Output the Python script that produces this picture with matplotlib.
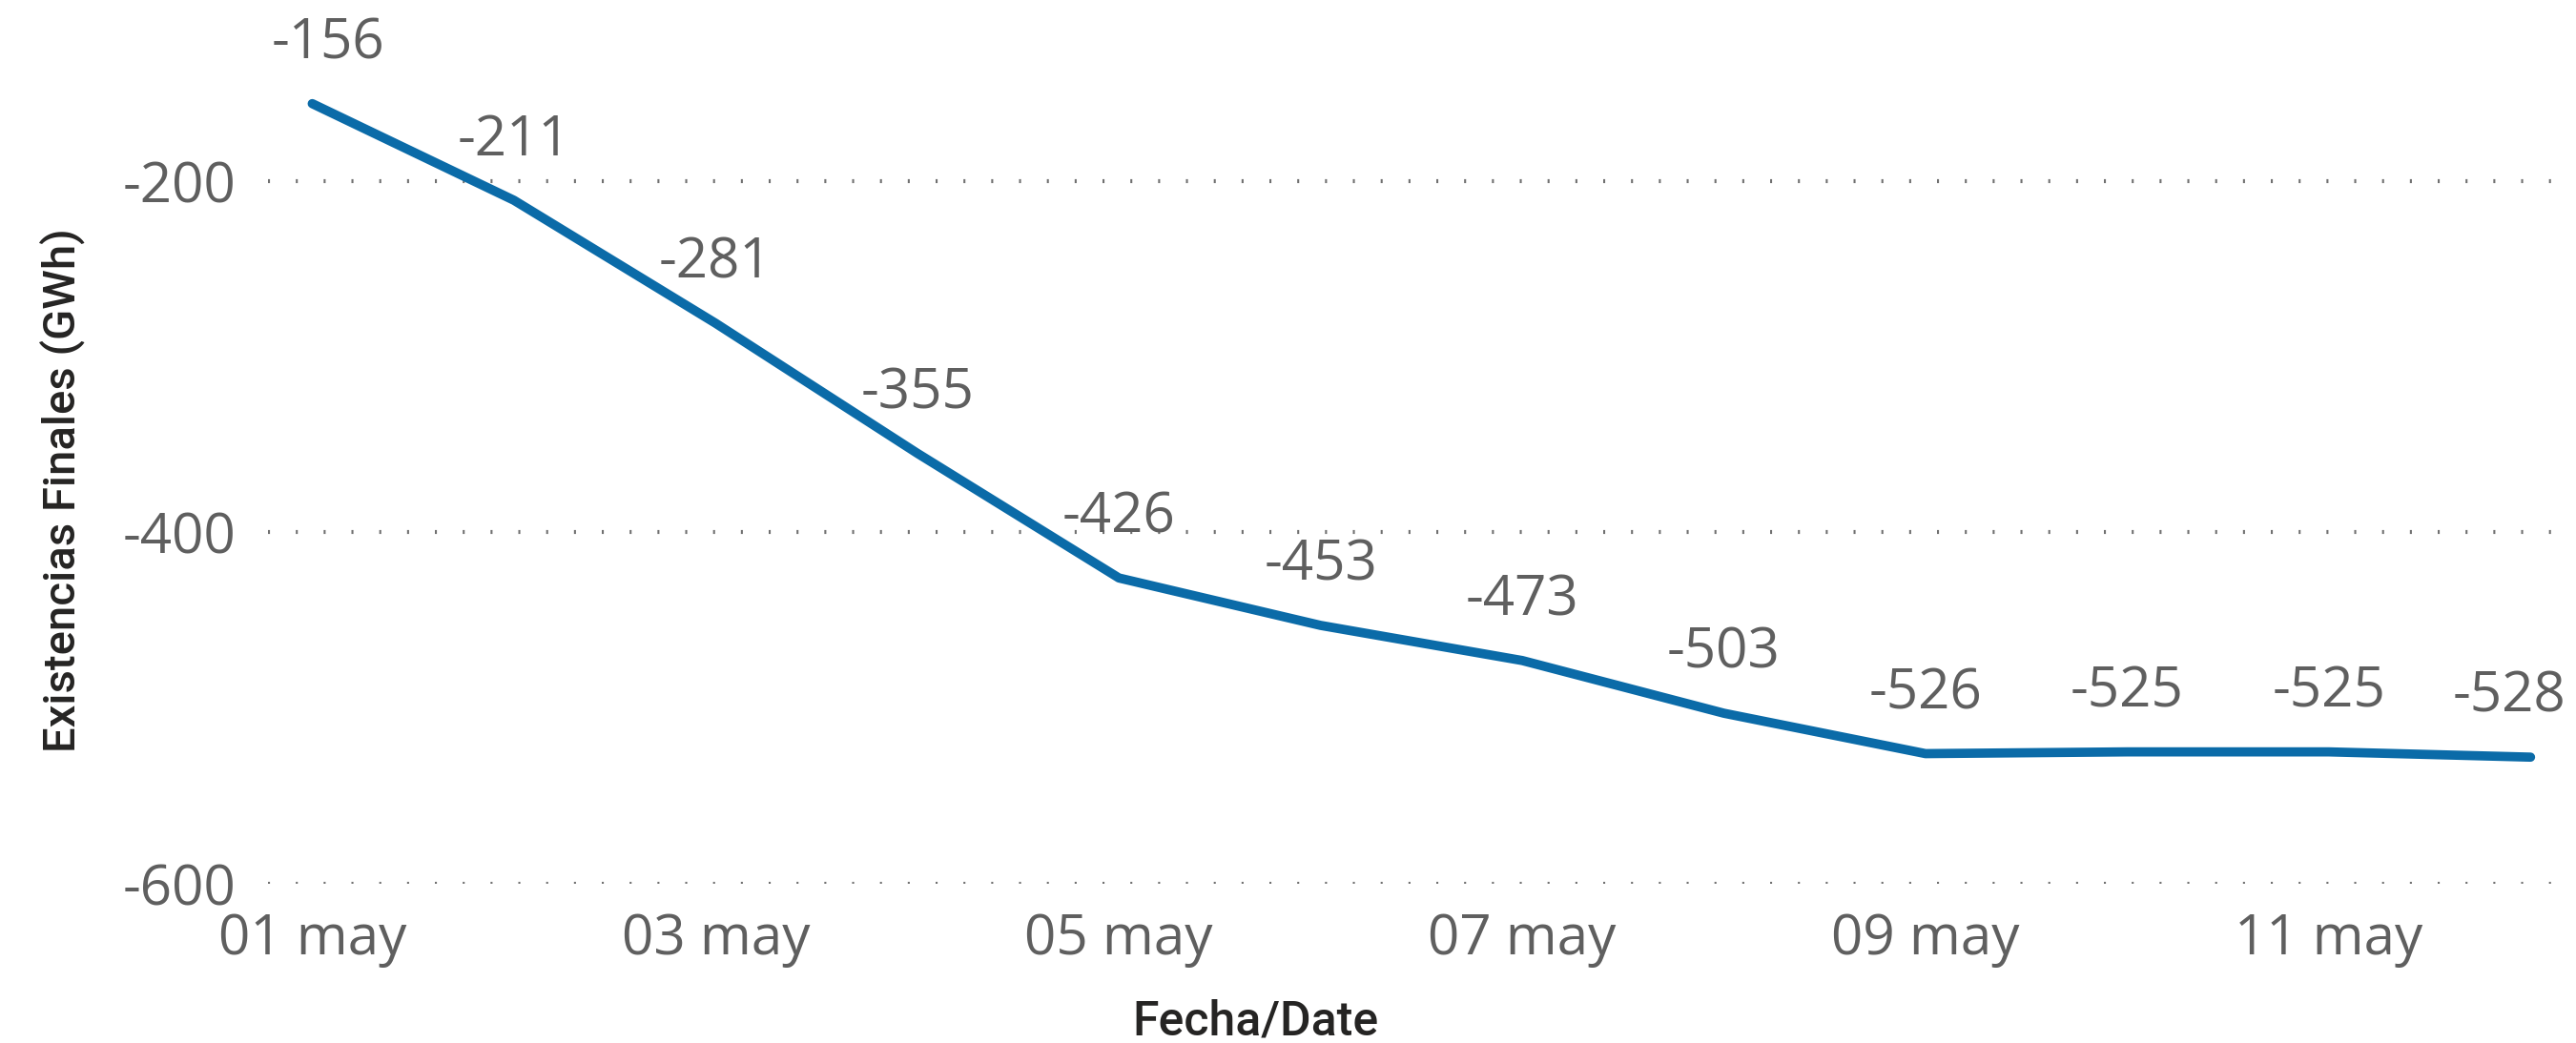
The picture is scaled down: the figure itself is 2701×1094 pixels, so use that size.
import matplotlib.pyplot as plt

days = [1, 2, 3, 4, 5, 6, 7, 8, 9, 10, 11, 12]
values = [-156, -211, -281, -355, -426, -453, -473, -503, -526, -525, -525, -528]
tick_days = [1, 3, 5, 7, 9, 11]
tick_labels = ["01 may", "03 may", "05 may", "07 may", "09 may", "11 may"]
y_ticks = [-200, -400, -600]

line_color = "#0B6BA8"
text_gray = "#5F5F5F"
title_color = "#252423"

plt.rcParams['font.family'] = ['Open Sans', 'DejaVu Sans']

fig = plt.figure(figsize=(27.01, 10.94), dpi=100)
ax = fig.add_axes([0.104, 0.1528, 0.894, 0.8472])

ax.plot(days, values, color=line_color, linewidth=7, solid_capstyle='round',
        solid_joinstyle='round', zorder=3)

# data labels above each point, first/last nudged to stay inside
for i, (d, v) in enumerate(zip(days, values)):
    dx = 0
    if i == 0:
        dx = 12
    elif i == len(days) - 1:
        dx = -16
    ax.annotate(f"{v}", (d, v), xytext=(dx, 24), textcoords='offset points',
                ha='center', va='bottom', fontsize=42, color=text_gray,
                clip_on=False, zorder=4)

ax.set_xlim(0.78, 12.2)
ax.set_ylim(-600, -97)

ax.set_xticks(tick_days)
ax.set_xticklabels(tick_labels)
ax.set_yticks(y_ticks)
ax.set_yticklabels([str(t) for t in y_ticks])
ax.tick_params(axis='both', length=0, labelsize=42, labelcolor=text_gray)
ax.tick_params(axis='x', pad=21)
ax.tick_params(axis='y', pad=24)

ax.grid(axis='y', color='#707070', linewidth=3, linestyle=(0, (0.5, 6.5)))
ax.grid(axis='x', visible=False)
ax.set_axisbelow(True)

for s in ax.spines.values():
    s.set_visible(False)

ax.set_xlabel("Fecha/Date", fontsize=36, color=title_color,
              family=['Roboto', 'DejaVu Sans'], fontweight='medium')
ax.xaxis.set_label_coords(0.429, -0.13)
ax.set_ylabel("Existencias Finales (GWh)", fontsize=34, color=title_color,
              family=['Roboto', 'DejaVu Sans'], fontweight='medium')
ax.yaxis.set_label_coords(-0.079, 0.445)

fig.savefig("out.png", dpi=100)
